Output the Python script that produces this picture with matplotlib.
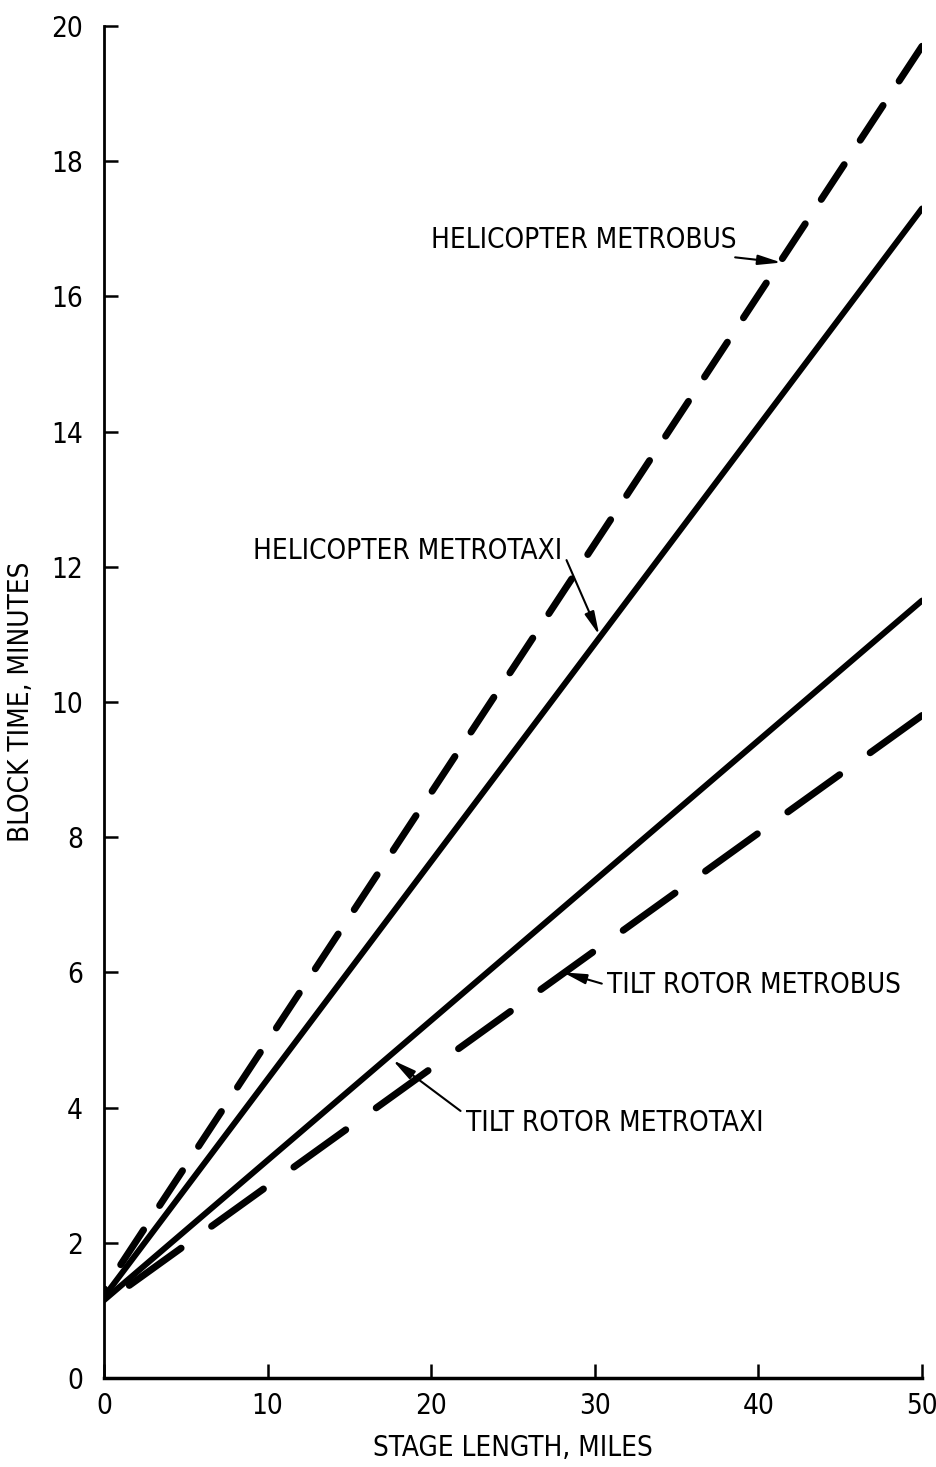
import matplotlib
matplotlib.use("Agg")
import matplotlib.pyplot as plt

plt.rcParams['font.family'] = ['DejaVu Sans']
plt.rcParams['font.stretch'] = 'condensed'

# Data
stage_length = [0, 50]
heli_metrobus = [1.3, 19.7]
heli_metrotaxi = [1.2, 17.3]
tilt_metrotaxi = [1.15, 11.5]
tilt_metrobus = [1.1, 9.8]
x_ticks = [0, 10, 20, 30, 40, 50]
y_ticks = [0, 2, 4, 6, 8, 10, 12, 14, 16, 18, 20]

fig = plt.figure(figsize=(9.37, 14.67), dpi=100)
ax = fig.add_axes([0.111, 0.0607, 0.873, 0.9216])

lw = 5.0
# dashed lines drawn from the right end so the dash pattern starts there
ax.plot(stage_length[::-1], heli_metrobus[::-1], color='black', lw=lw,
        solid_capstyle='round', dash_capstyle='round', dashes=(6.0, 4.2))
ax.plot(stage_length, heli_metrotaxi, color='black', lw=4.3, solid_capstyle='round')
ax.plot(stage_length, tilt_metrotaxi, color='black', lw=4.3, solid_capstyle='round')
ax.plot(stage_length[::-1], tilt_metrobus[::-1], color='black', lw=lw,
        solid_capstyle='round', dash_capstyle='round', dashes=(9.2, 5.4))

ax.set_xlim(0, 50)
ax.set_ylim(0, 20)
ax.set_xticks(x_ticks)
ax.set_yticks(y_ticks)
ax.spines['top'].set_visible(False)
ax.spines['right'].set_visible(False)
ax.spines['left'].set_linewidth(2)
ax.spines['bottom'].set_linewidth(2.5)
ax.tick_params(direction='in', length=10, width=1.8, labelsize=20, pad=10)
ax.tick_params(axis='y', pad=15)

ax.set_xlabel('STAGE LENGTH, MILES', fontsize=20, labelpad=10)
ax.set_ylabel('BLOCK TIME, MINUTES', fontsize=20, labelpad=12)

aprops = dict(arrowstyle='-|>,head_length=0.7,head_width=0.15', color='black', lw=1.5,
              shrinkA=2, shrinkB=0)
fs = 20
ax.annotate('HELICOPTER METROBUS', xy=(41.4, 16.5), xytext=(20.0, 16.83),
            fontsize=fs, va='center', ha='left', arrowprops=aprops)
ax.annotate('HELICOPTER METROTAXI', xy=(30.27, 10.99), xytext=(9.13, 12.23),
            fontsize=fs, va='center', ha='left',
            arrowprops=dict(aprops, relpos=(1.0, 0.5)))
ax.annotate('TILT ROTOR METROBUS', xy=(28.06, 6.0), xytext=(30.76, 5.81),
            fontsize=fs, va='center', ha='left',
            arrowprops=dict(aprops, relpos=(0.0, 0.5)))
ax.annotate('TILT ROTOR METROTAXI', xy=(17.65, 4.70), xytext=(22.1, 3.77),
            fontsize=fs, va='center', ha='left',
            arrowprops=dict(aprops, relpos=(0.0, 0.8)))

fig.savefig('out.png', dpi=100)
